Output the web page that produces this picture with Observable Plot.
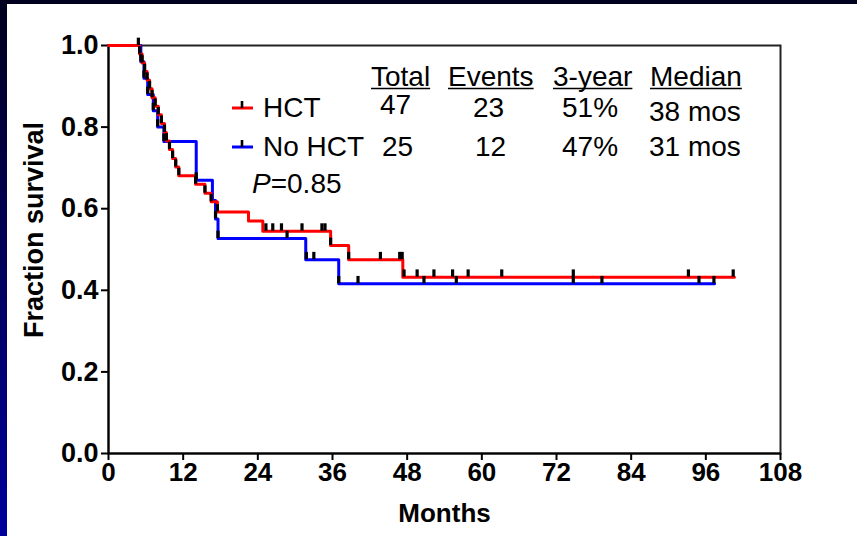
<!DOCTYPE html>
<html><head><meta charset="utf-8">
<script src="https://cdn.jsdelivr.net/npm/d3@7"></script>
<script src="https://cdn.jsdelivr.net/npm/@observablehq/plot@0.6"></script>
<style>
html,body{margin:0;padding:0;}
body{width:857px;height:536px;overflow:hidden;position:relative;background:linear-gradient(to bottom,#00001e 0%,#000050 40%,#00009c 100%);}
#panel{position:absolute;left:7px;top:4px;right:0;bottom:0;background:#fff;}
#chart{position:absolute;left:0;top:0;}
</style></head><body><div id="panel"></div><div id="chart"></div>
<script>
// ---- data ----
const groups = ["HCT", "No HCT"];
const groupColors = ["#ff0000", "#0000ff"];
const totals = [47, 25];
const events = [23, 12];
const threeYear = ["51%", "47%"];
const medians = ["38 mos", "31 mos"];
const headers = ["Total", "Events", "3-year", "Median"];
const pValue = "=0.85";
const xTicks = [0, 12, 24, 36, 48, 60, 72, 84, 96, 108];
const yTicks = [0, 0.2, 0.4, 0.6, 0.8, 1.0];
const xTitle = "Months";
const yTitle = "Fraction survival";

// HCT step function (months, survival)
const hctTime = [0, 5.0, 5.4, 5.8, 6.2, 6.6, 7.0, 7.5, 8.0, 8.5, 9.0, 9.3, 9.8, 10.3, 10.8, 11.3, 14.0, 15.5, 16.5, 17.5, 22.5, 24.8, 35.7, 38.6, 47.3];
const hctSurv = [1.0, 0.979, 0.957, 0.936, 0.915, 0.894, 0.872, 0.851, 0.830, 0.809, 0.787, 0.766, 0.745, 0.723, 0.702, 0.681, 0.660, 0.638, 0.617, 0.592, 0.570, 0.545, 0.510, 0.475, 0.432];
const hctEnd = 100.6;
const hctCensor = [4.8, 5.0, 5.4, 5.8, 6.2, 6.6, 7.0, 7.5, 8.0, 8.5, 9.0, 9.3, 9.8, 10.3, 10.8, 11.3, 14.0, 15.5, 16.5, 17.5, 25.3, 26.4, 27.8, 31.1, 34.3, 34.8, 35.7, 38.6, 43.7, 46.8, 47.2, 47.5, 49.6, 52.3, 55.3, 57.8, 63.2, 74.7, 93.2, 100.4];

// No HCT step function
const noTime = [0, 5.2, 5.7, 6.3, 7.2, 7.9, 8.9, 14.1, 16.7, 17.2, 17.6, 31.7, 37.0];
const noSurv = [1.0, 0.96, 0.92, 0.88, 0.84, 0.80, 0.765, 0.67, 0.62, 0.575, 0.527, 0.475, 0.416];
const noEnd = 97.4;
const noCensor = [5.2, 5.7, 6.3, 7.2, 7.9, 8.9, 14.1, 17.2, 17.6, 28.7, 31.8, 33.0, 37.0, 40.1, 50.7, 55.9, 74.7, 79.3, 94.9, 97.3];

// ---- build tables ----
function survAt(times, surv, t) {
  let v = surv[0];
  for (let i = 0; i < times.length; i++) if (times[i] <= t) v = surv[i];
  return v;
}
const hctData = hctTime.map((t, i) => ({t, s: hctSurv[i]})).concat([{t: hctEnd, s: hctSurv[hctSurv.length - 1]}]);
const noData = noTime.map((t, i) => ({t, s: noSurv[i]})).concat([{t: noEnd, s: noSurv[noSurv.length - 1]}]);
const censorData = hctCensor.map(t => ({t, s: survAt(hctTime, hctSurv, t)}))
  .concat(noCensor.map(t => ({t, s: survAt(noTime, noSurv, t)})));

const FONT = "'Liberation Sans', Arial, Helvetica, sans-serif";

const chart = Plot.plot({
  width: 857, height: 536,
  marginLeft: 108, marginRight: 77, marginTop: 45, marginBottom: 83,
  style: {background: "transparent", fontFamily: FONT, fontSize: "26px", fontWeight: "bold", color: "black"},
  x: {domain: [0, 108]},
  y: {domain: [0, 1]},
  marks: [
    Plot.frame({stroke: "#222", strokeWidth: 2}),
    Plot.axisX({ticks: xTicks, tickSize: 7, tickPadding: 2, strokeWidth: 2, label: xTitle, labelAnchor: "center", labelArrow: "none", labelOffset: 68, fontSize: 26, fontWeight: "bold"}),
    Plot.axisY({ticks: yTicks, tickFormat: d3.format(".1f"), tickSize: 7, tickPadding: 3, strokeWidth: 2, label: null, fontSize: 27, fontWeight: "bold"}),
    Plot.ruleY([0], {stroke: "black", strokeWidth: 2}),
    Plot.ruleX([0], {stroke: "black", strokeWidth: 2}),
    Plot.line(noData, {x: "t", y: "s", curve: "step-after", stroke: groupColors[1], strokeWidth: 3}),
    Plot.line(hctData, {x: "t", y: "s", curve: "step-after", stroke: groupColors[0], strokeWidth: 3}),
    Plot.ruleX(censorData, {x: "t", y1: "s", y2: d => d.s + 0.018, stroke: "black", strokeWidth: 3.2})
  ]
});
document.getElementById("chart").appendChild(chart);

const svg = d3.select(chart);
// y-axis title
svg.append("text")
  .attr("transform", "translate(43,230) rotate(-90)")
  .attr("text-anchor", "middle").attr("font-family", FONT).attr("font-size", 27).attr("font-weight", "bold")
  .attr("fill", "black").text(yTitle);

// ---- legend / summary table ----
const g = svg.append("g")
  .attr("font-family", FONT).attr("font-size", 28).attr("font-weight", "normal")
  .attr("text-anchor", "start").attr("fill", "black");
const headerX = [371, 448, 553, 650];
headers.forEach((h, i) => {
  const t = g.append("text").attr("x", headerX[i]).attr("y", 86).text(h);
  const w = t.node().getComputedTextLength();
  g.append("line").attr("x1", headerX[i]).attr("x2", headerX[i] + w).attr("y1", 88.5).attr("y2", 88.5).attr("stroke", "black").attr("stroke-width", 1.6);
});
const rowY = [117, 156];
const colX = [380, 473, 562, 649];
const colDy = [-3, 0, 0, 4];
groups.forEach((name, r) => {
  const y = rowY[r];
  g.append("line").attr("x1", 232).attr("x2", 253).attr("y1", y - 9).attr("y2", y - 9).attr("stroke", groupColors[r]).attr("stroke-width", 3);
  g.append("line").attr("x1", 242).attr("x2", 242).attr("y1", y - 9).attr("y2", y - 16).attr("stroke", "black").attr("stroke-width", 2.6);
  g.append("text").attr("x", 263).attr("y", y).text(name);
  const vals = [totals[r], events[r], threeYear[r], medians[r]];
  vals.forEach((v, c) => {
    g.append("text").attr("x", colX[c] + (r === 1 && c < 2 ? 2 : 0)).attr("y", y + (r === 0 ? colDy[c] : 0)).text(v);
  });
});
const pt = g.append("text").attr("x", 252).attr("y", 193);
pt.append("tspan").attr("font-style", "italic").text("P");
pt.append("tspan").text(pValue);
</script></body></html>
